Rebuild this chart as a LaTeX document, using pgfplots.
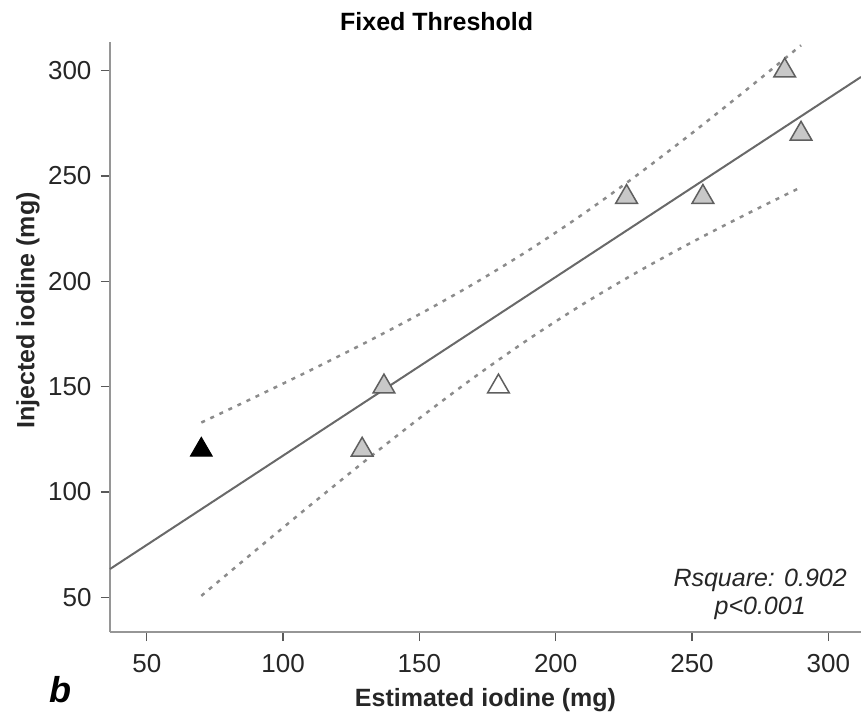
\documentclass[border=0pt]{standalone}
\usepackage{fontspec}
\setmainfont{Liberation Sans}
\usepackage{pgfplots}
\pgfplotsset{compat=1.18}
\definecolor{axgray}{RGB}{150,150,150}
\definecolor{fitgray}{RGB}{105,105,105}
\definecolor{cigray}{RGB}{140,140,140}
\definecolor{markgray}{RGB}{200,200,200}
\definecolor{edgegray}{RGB}{95,95,95}
\begin{document}
\begin{tikzpicture}
\begin{axis}[name=ax, scale only axis, width=751pt, height=590pt,
  xmin=36.5, xmax=312, ymin=33.5, ymax=313.6,
  axis x line=bottom, axis y line=left,
  axis line style={draw=axgray, line width=1.5pt, -},
  xtick={50,100,150,200,250,300}, ytick={50,100,150,200,250,300},
  tick align=outside, major tick length=9pt,
  tick style={draw=black!65, line width=1.3pt},
  tick label style={font=\fontsize{26}{30}\selectfont, text=black!85},
  xticklabel style={yshift=-10pt},
  yticklabel style={xshift=-6pt},
  /pgf/number format/assume math mode=true,
  xlabel={Estimated iodine (mg)}, ylabel={Injected iodine (mg)},
  every axis x label/.style={at={(rel axis cs:0.5,0)}, anchor=center, yshift=-68pt, font=\fontsize{25}{30}\selectfont\bfseries, text=black!85},
  every axis y label/.style={at={(rel axis cs:0,0.545)}, rotate=90, anchor=center, yshift=82pt, font=\fontsize{25}{30}\selectfont\bfseries, text=black!85},
  title={Fixed Threshold},
  title style={at={(0.435,1)}, anchor=center, yshift=14pt, font=\fontsize{25}{30}\selectfont\bfseries},
  clip=false]
% markers
\addplot[only marks, mark=triangle*, mark size=12.5pt, mark options={fill=black, draw=black, line width=1pt}] coordinates {(70,120)};
\addplot[only marks, mark=triangle*, mark size=12.5pt, mark options={fill=markgray, draw=edgegray, line width=1.5pt}] coordinates {(129,120) (137,150) (226,240) (254,240) (284,300) (290,270)};
\addplot[only marks, mark=triangle*, mark size=12.5pt, mark options={fill=white, draw=edgegray, line width=1.5pt}] coordinates {(179,150)};
% regression line
\addplot[fitgray, line width=2pt, no marks] coordinates {(36.5,63.4) (312,297.0)};
% confidence band
\addplot[cigray, line width=2.5pt, dash pattern=on 4pt off 6pt, no marks, smooth] coordinates {
(70,132.94) (90,145.20) (110,157.74) (130,170.71) (150,184.33) (170,198.87) (190,214.66) (210,231.90) (230,250.55) (250,270.33) (270,290.92) (290,312.04)};
\addplot[cigray, line width=2.5pt, dash pattern=on 4pt off 6pt, no marks, smooth] coordinates {
(70,50.66) (90,72.32) (110,93.70) (130,114.65) (150,134.95) (170,154.33) (190,172.46) (210,189.14) (230,204.41) (250,218.55) (270,231.88) (290,244.66)};
\node[font=\fontsize{25}{28}\selectfont\itshape, align=center, text=black!85] at (axis cs:275,51.5) {Rsquare: 0.902\\p<0.001};
\end{axis}
\node[font=\fontsize{36}{40}\selectfont\bfseries\itshape] at ([shift={(-50pt,-58pt)}]ax.south west) {b};
\pgfresetboundingbox
\path[use as bounding box] ([shift={(-110pt,-94pt)}]ax.south west) rectangle ([shift={(0pt,42pt)}]ax.north east);
\end{tikzpicture}
\end{document}
